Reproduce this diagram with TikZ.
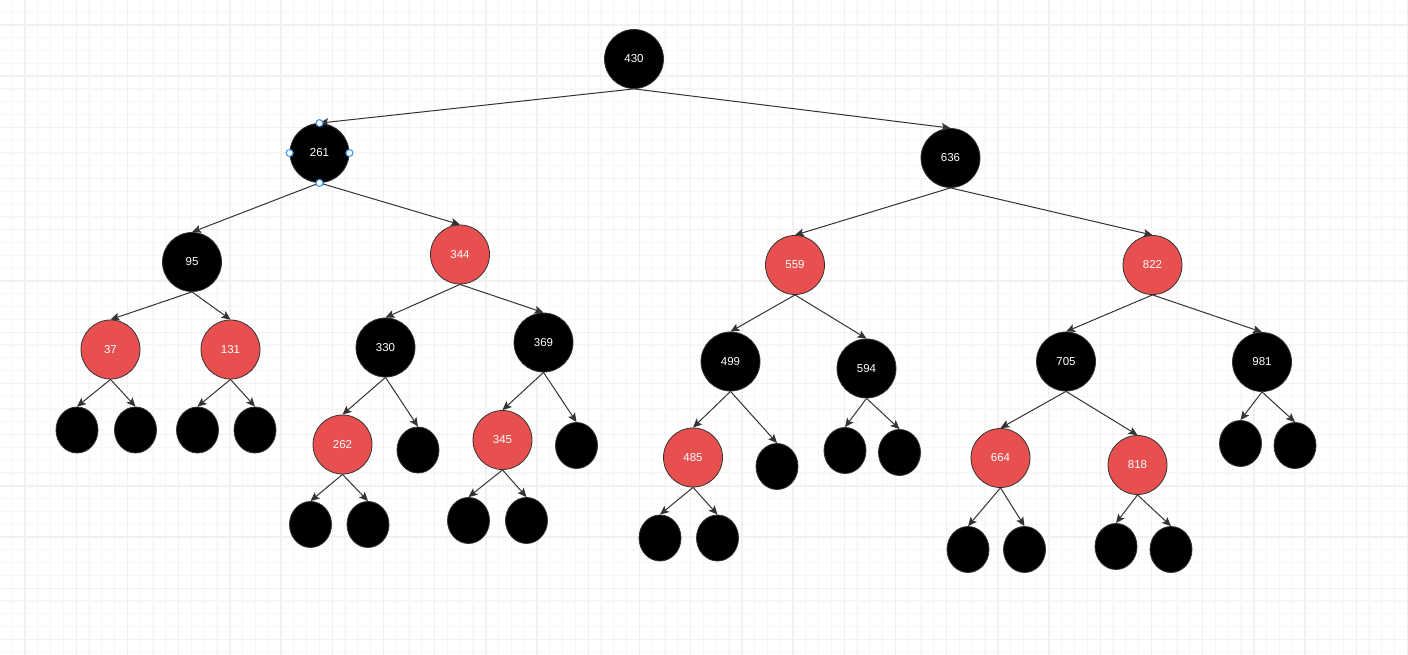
\documentclass[tikz,border=0pt]{standalone}
\usepackage{fontspec}
\setmainfont{Liberation Sans}
\usetikzlibrary{arrows.meta,shapes.geometric}
\definecolor{rbred}{RGB}{232,80,80}
\definecolor{edgecol}{RGB}{51,51,51}
\definecolor{gridminor}{RGB}{247,247,247}
\definecolor{gridmajor}{RGB}{241,241,241}
\definecolor{handleblue}{RGB}{52,140,235}
\tikzset{
  bnode/.style={circle, minimum size=59pt, inner sep=0pt, fill=black, draw=edgecol, line width=0.8pt, text=white, font=\fontsize{11.5}{13}\selectfont},
  rnode/.style={bnode, fill=rbred},
  leaf/.style={ellipse, minimum width=42pt, minimum height=46pt, inner sep=0pt, fill=black, draw=edgecol, line width=0.8pt},
  edge/.style={draw=edgecol, line width=1pt, -{Stealth[length=9pt,width=8pt,inset=2pt]}},
  handle/.style={circle, minimum size=7pt, inner sep=0pt, fill=white, draw=handleblue, line width=1pt},
  minorline/.style={draw=gridminor, line width=1.2pt},
  majorline/.style={draw=gridmajor, line width=1.4pt}
}
\begin{document}
\begin{tikzpicture}[x=1pt,y=-1pt]
\useasboundingbox (0,0) rectangle (1408,655);
\fill[white] (0,0) rectangle (1408,655);
% grid
\foreach \i in {0,...,109} {\draw[minorline] ({12.2+12.8*\i},0) -- ({12.2+12.8*\i},655);}
\foreach \i in {0,...,50} {\draw[minorline] (0,{12.2+12.8*\i}) -- (1408,{12.2+12.8*\i});}
\foreach \i in {0,...,27} {\draw[majorline] ({25+51.2*\i},0) -- ({25+51.2*\i},655);}
\foreach \i in {0,...,12} {\draw[majorline] (0,{25+51.2*\i}) -- (1408,{25+51.2*\i});}

% labelled nodes
\node[bnode] (n430) at (634,59) {430};
\node[bnode] (n261) at (319.5,153) {261};
\node[bnode] (n636) at (950.5,158) {636};
\node[bnode] (n95) at (192,262) {95};
\node[rnode] (n344) at (460,254.5) {344};
\node[rnode] (n559) at (795,265) {559};
\node[rnode] (n822) at (1152.5,265) {822};
\node[rnode] (n37) at (110.5,349.5) {37};
\node[rnode] (n131) at (230.5,349.5) {131};
\node[bnode] (n330) at (385.5,347.5) {330};
\node[bnode] (n369) at (543.5,342.5) {369};
\node[bnode] (n499) at (730.5,361.5) {499};
\node[bnode] (n594) at (866.5,368.5) {594};
\node[bnode] (n705) at (1066,361.5) {705};
\node[bnode] (n981) at (1262,362) {981};
\node[rnode] (n262) at (342.5,444.5) {262};
\node[rnode] (n345) at (502.5,440) {345};
\node[rnode] (n485) at (693,457.5) {485};
\node[rnode] (n664) at (1000.5,458) {664};
\node[rnode] (n818) at (1137.5,465) {818};

% leaves
\node[leaf] (l37a) at (77,430) {};
\node[leaf] (l37b) at (135.5,430) {};
\node[leaf] (l131a) at (197.5,430) {};
\node[leaf] (l131b) at (255,430) {};
\node[leaf] (l262a) at (310.5,524.5) {};
\node[leaf] (l262b) at (368,524.5) {};
\node[leaf] (l330b) at (418,450) {};
\node[leaf] (l345a) at (468.5,520.5) {};
\node[leaf] (l345b) at (526.5,520.5) {};
\node[leaf] (l369b) at (576.5,445.5) {};
\node[leaf] (l485a) at (660,538) {};
\node[leaf] (l485b) at (717.5,538) {};
\node[leaf] (l499b) at (777,466.5) {};
\node[leaf] (l594a) at (845,450.5) {};
\node[leaf] (l594b) at (899.5,452.5) {};
\node[leaf] (l664a) at (968,549.5) {};
\node[leaf] (l664b) at (1024.5,549.5) {};
\node[leaf] (l818a) at (1116,546.5) {};
\node[leaf] (l818b) at (1171,549.5) {};
\node[leaf] (l981a) at (1240.5,443.5) {};
\node[leaf] (l981b) at (1295,445.5) {};

% edges
\foreach \p/\c in {n430/n261, n430/n636, n261/n95, n261/n344, n636/n559, n636/n822,
  n95/n37, n95/n131, n344/n330, n344/n369, n559/n499, n559/n594, n822/n705, n822/n981,
  n37/l37a, n37/l37b, n131/l131a, n131/l131b, n330/n262, n330/l330b, n369/n345, n369/l369b,
  n499/n485, n499/l499b, n594/l594a, n594/l594b, n705/n664, n705/n818, n981/l981a, n981/l981b,
  n262/l262a, n262/l262b, n345/l345a, n345/l345b, n485/l485a, n485/l485b,
  n664/l664a, n664/l664b, n818/l818a, n818/l818b}
  {\draw[edge] (\p.south) -- (\c.north);}

% selection handles on 261
\node[handle] (hN) at (n261.north) {};
\node[handle] (hS) at (n261.south) {};
\node[handle] (hW) at (n261.west) {};
\node[handle] (hE) at (n261.east) {};
\end{tikzpicture}
\end{document}
